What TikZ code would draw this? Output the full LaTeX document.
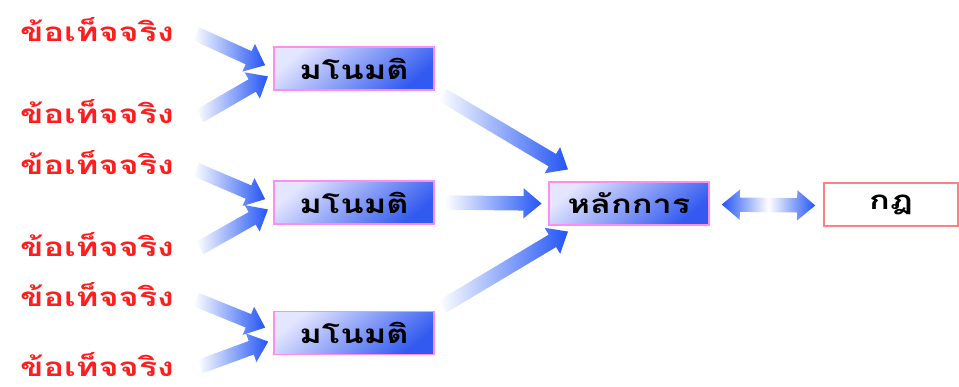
\documentclass[tikz,border=0pt]{standalone}
\usepackage{fontspec}
\newfontfamily\thaifont[Script=Thai,FakeStretch=1.32]{Loma}
\usetikzlibrary{shapes.arrows,calc}
\definecolor{arrowblue}{RGB}{35,85,245}
\definecolor{factred}{RGB}{255,30,30}
\definecolor{boxblue}{RGB}{50,90,240}
\definecolor{boxlight}{RGB}{228,230,255}
\definecolor{boxpink}{RGB}{255,140,240}
\definecolor{lawred}{RGB}{255,130,130}
\tikzset{
  fact/.style={font=\thaifont\bfseries\fontsize{26}{28}\selectfont, text=factred, inner sep=0pt},
  conceptbox/.style={draw=boxpink, line width=1.5pt, minimum width=160pt, minimum height=43pt,
     top color=boxlight, bottom color=boxblue, shading angle=40,
     font=\thaifont\bfseries\fontsize{26}{28}\selectfont, inner sep=0pt},
  lawbox/.style={draw=lawred, line width=1.5pt, fill=white, minimum width=134pt, minimum height=43pt,
     font=\thaifont\bfseries\fontsize{26}{28}\selectfont, inner sep=0pt},
  fatarrow/.style={single arrow, inner xsep=0pt, inner ysep=7pt, single arrow head extend=8pt,
     single arrow tip angle=80, left color=white, right color=arrowblue, draw=none},
  dblarrow/.style={double arrow, inner xsep=0pt, inner ysep=7pt, double arrow head extend=8pt,
     double arrow tip angle=80, left color=arrowblue, right color=arrowblue, middle color=white, draw=none}
}
\newcommand\fatarr[3][fatarrow]{%
  \path let \p1=(#2), \p2=(#3), \n1={veclen(\x2-\x1,\y2-\y1)} in
    (\p1) -- node[#1, sloped, allow upside down, minimum height=\n1] {} (\p2);
}
\begin{document}
\begin{tikzpicture}[x=1pt,y=-1pt]
\useasboundingbox (0,0) rectangle (959,387);
\node[fact] (f1) at (97,30) {ข้อเท็จจริง};
\node[fact] (f2) at (97,112) {ข้อเท็จจริง};
\node[fact] (f3) at (97,163) {ข้อเท็จจริง};
\node[fact] (f4) at (97,245) {ข้อเท็จจริง};
\node[fact] (f5) at (97,295) {ข้อเท็จจริง};
\node[fact] (f6) at (97,365) {ข้อเท็จจริง};
\node[conceptbox] (c1) at (354,68.5) {มโนมติ};
\node[conceptbox] (c2) at (354,202.5) {มโนมติ};
\node[conceptbox] (c3) at (354,333) {มโนมติ};
\node[conceptbox] (p) at (629,203.5) {หลักการ};
\node[lawbox] (l) at (891,204.5) {กฎ};
% fact -> concept arrows
\fatarr{$(f1.east)+(18,2)$}{$(c1.west)+(-12,-5)$}
\fatarr{$(f2.east)+(22,6)$}{$(c1.west)+(-9,10)$}
\fatarr{$(f3.east)+(18,5)$}{$(c2.west)+(-12,-5)$}
\fatarr{$(f4.east)+(22,5)$}{$(c2.west)+(-9,9)$}
\fatarr{$(f5.east)+(18,3)$}{$(c3.west)+(-12,-7)$}
\fatarr{$(f6.east)+(22,3)$}{$(c3.west)+(-9,10)$}
% concept -> principle arrows
\fatarr{$(c1.south east)+(4,2)$}{$(p.north west)+(16,-14)$}
\fatarr{$(c2.east)+(6,0)$}{$(p.west)+(-11,0)$}
\fatarr{$(c3.north east)+(4,-2)$}{$(p.south west)+(16,8)$}
% principle <-> law
\fatarr[dblarrow]{$(p.east)+(12,1)$}{$(l.west)+(-8,1)$}
\end{tikzpicture}
\end{document}
